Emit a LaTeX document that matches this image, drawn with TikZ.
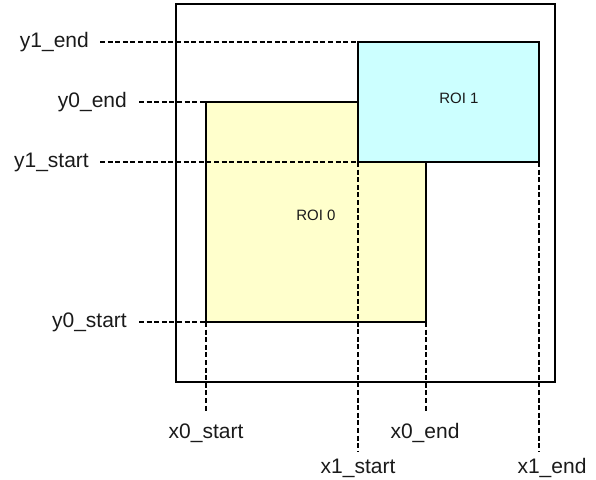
\documentclass[tikz,border=0pt]{standalone}
\usepackage{fontspec}
\setmainfont{Liberation Sans}
\definecolor{roiyellow}{HTML}{FFFFCC}
\definecolor{roicyan}{HTML}{CCFFFF}
\definecolor{txt}{HTML}{1A1A1A}
\begin{document}
\begin{tikzpicture}[x=1pt,y=-1pt,
  lbl/.style={inner sep=0pt,text=txt,font=\fontsize{21}{24}\selectfont},
  roilbl/.style={inner sep=0pt,text=txt,font=\fontsize{15}{18}\selectfont},
  guide/.style={draw=black,line width=1.3pt,dash pattern=on 5pt off 2.6pt},
  frameline/.style={draw=black,line width=2pt},
  roiline/.style={draw=black,line width=1.4pt}]
\useasboundingbox (0,0) rectangle (596,479);
% outer frame
\coordinate (fTL) at (176,4);
\coordinate (fBR) at (555,382);
\draw[frameline] (fTL) rectangle (fBR);
% ROI 0
\coordinate (r0TL) at (206,102);
\coordinate (r0BR) at (426,322);
\coordinate (r0BL) at (206,322);
\draw[roiline,fill=roiyellow] (r0TL) rectangle (r0BR);
% ROI 1
\coordinate (r1TL) at (358,42);
\coordinate (r1TR) at (539,42);
\coordinate (r1BR) at (539,162);
\coordinate (r1BL) at (358,162);
\draw[roiline,fill=roicyan] (r1TL) rectangle (r1BR);
\node[roilbl] (roi0) at (316,215) {ROI 0};
\node[roilbl] (roi1) at (459,98) {ROI 1};
% y labels
\node[lbl,anchor=east] (ly1e) at (89,42) {y1\_end};
\node[lbl,anchor=east] (ly0e) at (127,102) {y0\_end};
\node[lbl,anchor=east] (ly1s) at (89,162) {y1\_start};
\node[lbl,anchor=east] (ly0s) at (127,322) {y0\_start};
\draw[guide] ([xshift=11pt]ly1e.east) -- (r1TL);
\draw[guide] ([xshift=12pt]ly0e.east) -- (r0TL);
\draw[guide] ([xshift=11pt]ly1s.east) -- (r1BL);
\draw[guide] ([xshift=12pt]ly0s.east) -- (r0BL);
% x labels
\node[lbl] (lx0s) at (206,433) {x0\_start};
\node[lbl] (lx0e) at (425,433) {x0\_end};
\node[lbl] (lx1s) at (358,468) {x1\_start};
\node[lbl] (lx1e) at (552,468) {x1\_end};
\coordinate (ex0s) at (206,412);
\coordinate (ex0e) at (426,412);
\coordinate (ex1s) at (358,452);
\coordinate (ex1e) at (539,452);
\draw[guide] (r0BL) -- (ex0s);
\draw[guide] (r0BR) -- (ex0e);
\draw[guide] (r1BL) -- (ex1s);
\draw[guide] (r1BR) -- (ex1e);
\end{tikzpicture}
\end{document}
